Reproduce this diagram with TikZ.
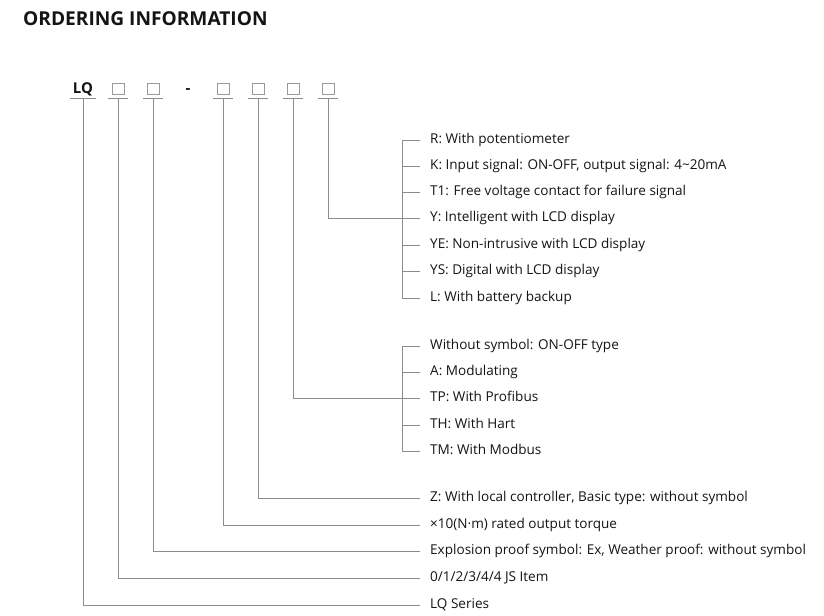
\documentclass[tikz,border=0pt]{standalone}
\usepackage{fontspec}
\setmainfont{Open Sans}
\usepackage{tikz}
\usetikzlibrary{positioning}

\definecolor{ink}{HTML}{141414}
\definecolor{wiregray}{HTML}{8C8C8C}
\definecolor{slotgray}{HTML}{9A9A9A}

\begin{document}
\begin{tikzpicture}[
    x=1bp, y=-1bp,
    title/.style={anchor=base west, inner sep=0pt,
        font=\fontsize{19.2}{21}\selectfont\bfseries, text=ink},
    code/.style={anchor=base, inner sep=0pt, text height=11bp, text depth=0pt,
        font=\fontsize{15}{17}\selectfont\bfseries, text=ink},
    slot/.style={draw=slotgray, line width=0.8bp,
        minimum width=12bp, minimum height=11bp, inner sep=0pt},
    opt/.style={anchor=west, inner xsep=10bp, inner ysep=0pt,
        text height=0.88em, text depth=0.2em,
        font=\fontsize{13.6}{16}\selectfont, text=ink},
    wire/.style={draw=wiregray, line width=0.8bp},
]
\useasboundingbox (0,0) rectangle (824,616);

%% ---- TITLE ----
\node[title] (ttl) at (23,26) {ORDERING INFORMATION};

%% ---- MODEL CODE ----
\node[code] (lq)   at (83,94)   {LQ};
\node[slot] (s1)   at (118,88.5) {};
\node[slot] (s2)   at (153,88.5) {};
\node[code] (dash) at (188,94)  {-};
\node[slot] (s3)   at (223,88.5) {};
\node[slot] (s4)   at (258,88.5) {};
\node[slot] (s5)   at (293,88.5) {};
\node[slot] (s6)   at (328,88.5) {};

%% ---- UNDERLINES ----
\draw[wire] ([xshift=-13bp,yshift=-4.5bp]lq.south) -- ([xshift=13bp,yshift=-4.5bp]lq.south);
\foreach \s in {s1,s2,s3,s4,s5,s6}
    \draw[wire] ([xshift=-10bp,yshift=-4.5bp]\s.south) -- ([xshift=10bp,yshift=-4.5bp]\s.south);

%% ---- FUNCTION OPTIONS ----
\node[opt] (pot)  at (420,140) {R: With potentiometer};
\node[opt] (ksig) at (420,166) {K: Input signal: ON-OFF, output signal: 4\textasciitilde20mA};
\node[opt] (tone) at (420,192) {T1: Free voltage contact for failure signal};
\node[opt] (ylcd) at (420,218) {Y: Intelligent with LCD display};
\node[opt] (yelcd) at (420,245) {YE: Non-intrusive with LCD display};
\node[opt] (yslcd) at (420,271) {YS: Digital with LCD display};
\node[opt] (batt) at (420,298) {L: With battery backup};

%% ---- CONTROL OPTIONS ----
\node[opt] (onoff) at (420,346) {Without symbol: ON-OFF type};
\node[opt] (modul) at (420,372) {A: Modulating};
\node[opt] (prof)  at (420,398) {TP: With Profibus};
\node[opt] (hart)  at (420,425) {TH: With Hart};
\node[opt] (modb)  at (420,451) {TM: With Modbus};

%% ---- SINGLE OPTIONS ----
\node[opt] (local)  at (420,498) {Z: With local controller, Basic type: without symbol};
\node[opt] (torque) at (420,525) {×10(N·m) rated output torque};
\node[opt] (exprf)  at (420,551) {Explosion proof symbol: Ex, Weather proof: without symbol};
\node[opt] (item)   at (420,578) {0/1/2/3/4/4 JS Item};
\node[opt] (series) at (420,605) {LQ Series};

%% ---- BRACKETS ----
\draw[wire] (pot.west) -- ++(-18,0) |- (batt.west);
\foreach \n in {ksig,tone,ylcd,yelcd,yslcd}
    \draw[wire] (\n.west) -- ++(-18,0);
\draw[wire] (onoff.west) -- ++(-18,0) |- (modb.west);
\foreach \n in {modul,prof,hart}
    \draw[wire] (\n.west) -- ++(-18,0);

%% ---- CODE -> OPTIONS ----
\draw[wire] ([yshift=-4.5bp]s6.south) |- (ylcd.west);
\draw[wire] ([yshift=-4.5bp]s5.south) |- (prof.west);
\draw[wire] ([yshift=-4.5bp]s4.south) |- (local.west);
\draw[wire] ([yshift=-4.5bp]s3.south) |- (torque.west);
\draw[wire] ([yshift=-4.5bp]s2.south) |- (exprf.west);
\draw[wire] ([yshift=-4.5bp]s1.south) |- (item.west);
\draw[wire] ([yshift=-4.5bp]lq.south) |- (series.west);

\end{tikzpicture}
\end{document}
